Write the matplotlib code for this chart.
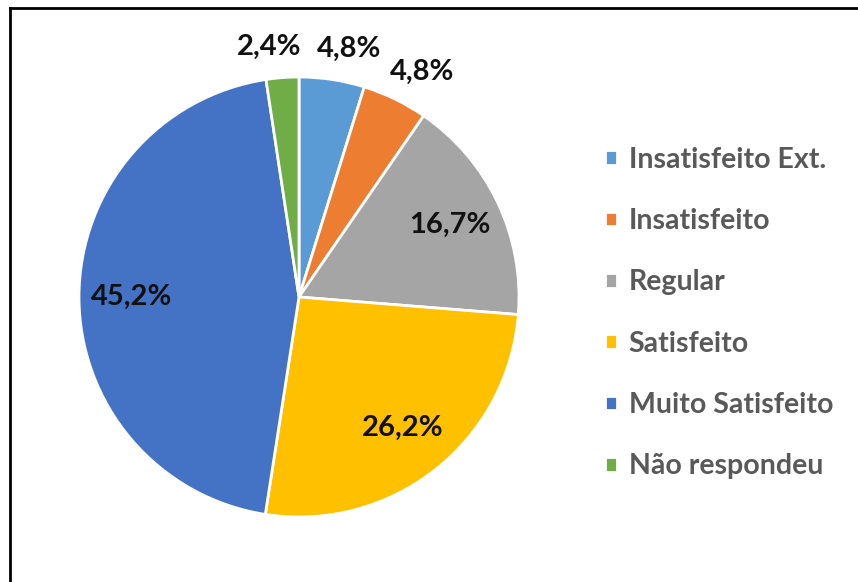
import numpy as np
import matplotlib.pyplot as plt
from matplotlib.lines import Line2D

categorias = ["Insatisfeito Ext.", "Insatisfeito", "Regular", "Satisfeito",
              "Muito Satisfeito", "Não respondeu"]
percentuais = [4.8, 4.8, 16.7, 26.2, 45.2, 2.4]
cores = ["#5B9BD5", "#ED7D31", "#A5A5A5", "#FFC000", "#4472C4", "#70AD47"]

plt.rcParams['font.family'] = ['Lato', 'DejaVu Sans']

fig = plt.figure(figsize=(8.58, 5.82), dpi=100)
ax = fig.add_axes([79 / 858, 65 / 582, 440 / 858, 440 / 582])

wedges, _ = ax.pie(percentuais, colors=cores, startangle=90, counterclock=False,
                   radius=1.0, wedgeprops=dict(edgecolor='white', linewidth=2))
ax.set_xlim(-1, 1)
ax.set_ylim(-1, 1)

# rótulos: fatias pequenas por fora, as demais por dentro
for w, v in zip(wedges, percentuais):
    ang = np.deg2rad((w.theta1 + w.theta2) / 2)
    if v < 5:
        x = 1.17 * np.cos(ang) + 0.05 * np.sign(np.cos(ang))
        y = 1.14 * np.sin(ang)
    else:
        x, y = 0.76 * np.cos(ang), 0.76 * np.sin(ang)
    ax.text(x, y, f"{v:.1f}%".replace('.', ','), ha='center', va='center',
            fontsize=21, fontweight='bold', color='#111111')

fig.legend(wedges, categorias, loc='center left', bbox_to_anchor=(579 / 858, 0.462),
           frameon=False, labelcolor='#595959', prop=dict(weight='bold', size=20.5),
           handlelength=0.42, handleheight=0.42, handletextpad=0.42, labelspacing=1.24)

# moldura (apenas superior e esquerda)
fig.add_artist(Line2D([10 / 858, 1], [1 - 8 / 582, 1 - 8 / 582], color='black', lw=2, transform=fig.transFigure))
fig.add_artist(Line2D([10 / 858, 10 / 858], [0, 1 - 8 / 582], color='black', lw=2, transform=fig.transFigure))

fig.savefig("out.png", dpi=100)
